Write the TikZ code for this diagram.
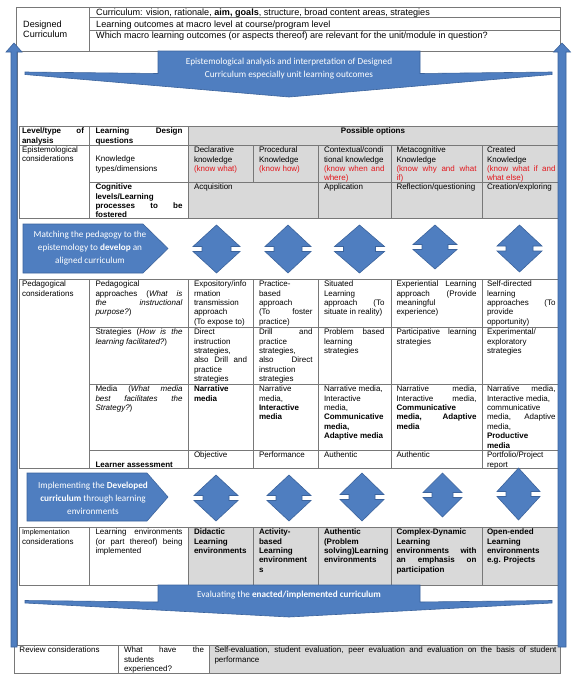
\documentclass[tikz,border=0pt]{standalone}
\usepackage{fontspec}
\setmainfont{Liberation Sans}
\newfontfamily\bnfont{Carlito}
\definecolor{kred}{HTML}{E3161C}
\definecolor{bfill}{HTML}{4F7EC0}
\definecolor{bdraw}{HTML}{3B639C}
\definecolor{lgray}{HTML}{D9D9D9}
\definecolor{tline}{HTML}{787878}
\newcommand\tf{\fontsize{8}{9.45}\selectfont}
\newcommand\topf{\fontsize{9.1}{9.5}\selectfont}
\newcommand\bnf{\bnfont\fontsize{9.2}{13}\selectfont}
\newcommand\udarrow[4]{%
  \path[blueshape] ({#1},{#2-#4}) -- ({#1+#3},{#2-2.5}) -- ({#1+#3-9},{#2-2.5}) -- ({#1+#3-9},{#2+2.5}) -- ({#1+#3},{#2+2.5}) -- ({#1},{#2+#4}) -- ({#1-#3},{#2+2.5}) -- ({#1-#3+9},{#2+2.5}) -- ({#1-#3+9},{#2-2.5}) -- ({#1-#3},{#2-2.5}) -- cycle;}
\hyphenpenalty=10000
\begin{document}
\begin{tikzpicture}[x=1pt,y=-1pt,
  tl/.style={draw=tline,line width=0.6pt},
  blueshape/.style={fill=bfill,draw=bdraw,line width=0.6pt,line join=miter},
  tcell/.style={anchor=north west,inner sep=0pt,outer sep=0pt,font=\tf,align=justify,execute at begin node={\tf\strut}},
  cA/.style={tcell,text width=62pt},
  cB/.style={tcell,text width=87pt},
  cC/.style={tcell,text width=53pt},
  cD/.style={tcell,text width=53.5pt},
  cE/.style={tcell,text width=60.5pt},
  cF/.style={tcell,text width=80pt},
  cG/.style={tcell,text width=68.5pt},
  toptext/.style={anchor=base west,inner sep=0pt,font=\topf},
  bantext/.style={inner sep=0pt,font=\bnf,text=white,align=center},
]
\useasboundingbox (0,0) rectangle (576,683);
\fill[white] (0,0) rectangle (576,683);
% grey cells
\fill[lgray] (188,126) rectangle (558,218);
\fill[lgray] (188,527) rectangle (558,585);
\fill[lgray] (209,645) rectangle (560,673);
% top table
\draw[tl] (16,7) rectangle (560,51);
\draw[tl] (89,7) -- (89,51);
\draw[tl] (89,17.5) -- (560,17.5);
\draw[tl] (89,29.8) -- (560,29.8);
% frame
\draw[tl] (17.5,51) -- (17.5,645);
\draw[tl] (558,51) -- (558,645);
% main table
\foreach \y in {126,145,218,279,468,527,585} \draw[tl] (19,\y) -- (558,\y);
\foreach \y in {182,327,384,450} \draw[tl] (89,\y) -- (558,\y);
\foreach \x in {19,89,188,558} \draw[tl] (\x,126) -- (\x,218);
\foreach \x in {318,391,482} \draw[tl] (\x,145) -- (\x,218);
\draw[tl] (253,145) -- (253,182);
\foreach \x in {19,89,188,253,318,391,482,558} {\draw[tl] (\x,279) -- (\x,468); \draw[tl] (\x,527) -- (\x,585);}
% review table
\draw[tl] (14,645) rectangle (560,673);
\draw[tl] (118,645) -- (118,673);
\draw[tl] (209,645) -- (209,673);
% banners
\path[blueshape] (158,51) -- (420,51) -- (420,73.5) -- (552,72) -- (552,74.5) -- (289,97) -- (25,74.5) -- (25,72) -- (158,73.5) -- cycle;
\path[blueshape] (158,585) -- (420,585) -- (420,602) -- (552,600.5) -- (552,603) -- (289,617) -- (25,603) -- (25,600.5) -- (158,602) -- cycle;
\path[blueshape] (23,224) -- (143,224) -- (168,248.5) -- (143,273) -- (23,273) -- cycle;
\path[blueshape] (27,473) -- (147,473) -- (168,497) -- (147,521) -- (27,521) -- cycle;
% up-down arrows
\udarrow{216.5}{249}{23.5}{24}
\udarrow{288}{249}{23}{24}
\udarrow{359.5}{249}{25}{24}
\udarrow{435}{247}{22}{22}
\udarrow{519.5}{248.5}{22.5}{23.5}
\udarrow{216}{498}{22}{23}
\udarrow{289}{498}{22}{23}
\udarrow{362}{497}{22}{24}
\udarrow{442.5}{495}{19.5}{22}
\udarrow{518.5}{494}{21.5}{26}
% side arrows
\path[blueshape] (11,647) -- (11,52) -- (6,52) -- (14,43) -- (22,52) -- (17,52) -- (17,647) -- cycle;
\path[blueshape] (558,647) -- (558,52) -- (553.5,52) -- (562,43) -- (570.5,52) -- (566,52) -- (566,647) -- cycle;
% banner texts
\node[bantext] (t1) at (289,68.3) {Epistemological analysis and interpretation of Designed\\Curriculum especially unit learning outcomes};
\node[bantext] (t2) at (90,248.3) {Matching the pedagogy to the\\epistemology to \textbf{develop} an\\aligned curriculum};
\node[bantext] (t3) at (93,498.3) {Implementing the \textbf{Developed}\\\textbf{curriculum} through learning\\environments};
\node[bantext] (t4) at (289,595) {Evaluating the \textbf{enacted/implemented curriculum}};
% top table text
\node[anchor=north west,inner sep=0pt,font=\topf,align=left,execute at begin node={\topf\strut}] (dc) at (23,21.2) {Designed\\Curriculum};
\node[toptext] (r1) at (96,15.4) {Curriculum: vision, rationale, \textbf{aim, goals}, structure, broad content areas, strategies};
\node[toptext] (r2) at (96,27.2) {Learning outcomes at macro level at course/program level};
\node[toptext] (r3) at (96,38.7) {Which macro learning outcomes (or aspects thereof) are relevant for the unit/module in question?};
% header
\node[cA] (h0) at (22,127) {\textbf{Level/type of\linebreak analysis}};
\node[cB] (h1) at (95.5,127) {\textbf{Learning Design\linebreak questions}};
\node[anchor=north,inner sep=0pt,font=\tf\bfseries,execute at begin node={\strut}] (h2) at (373,127) {Possible options};
% epistemological
\node[cA] (e0) at (22,145.5) {Epistemological\\considerations};
\node[cB] (e1) at (95.5,155) {Knowledge\\types/dimensions};
\node[cC] (k1) at (194,146) {Declarative\\knowledge\\\textcolor{kred}{(know what)}};
\node[cD] (k2) at (259,146) {Procedural\\Knowledge\\\textcolor{kred}{(know how)}};
\node[cE] (k3) at (324,146) {Contextual/condi\\tional knowledge\\\textcolor{kred}{(know when and\linebreak where)}};
\node[cF] (k4) at (396.5,146) {Metacognitive\\Knowledge\\\textcolor{kred}{(know why and what\linebreak if)}};
\node[cG] (k5) at (487,146) {Created\\Knowledge\\\textcolor{kred}{(know what if and\linebreak what else)}};
\node[cB] (g1) at (95.5,183) {\textbf{Cognitive\\levels/Learning\\processes to be\linebreak fostered}};
\node[tcell,text width=118pt] (g2) at (194,183) {Acquisition};
\node[cE] (g3) at (324,183) {Application};
\node[cF] (g4) at (396.5,183) {Reflection/questioning};
\node[cG] (g5) at (487,183) {Creation/exploring};
% pedagogical
\node[cA] (p0) at (22,280) {Pedagogical\\considerations};
\node[cB] (p1) at (95.5,280) {Pedagogical\\approaches (\textit{What is}\linebreak \textit{the instructional}\linebreak \textit{purpose?})};
\node[cC] (a1) at (194,280) {Expository/info\\rmation\\transmission\\approach\\(To expose to)};
\node[cD] (a2) at (259,280) {Practice-\\based\\approach\\(To foster\linebreak practice)};
\node[cE] (a3) at (324,280) {Situated\\Learning\\approach (To\linebreak situate in reality)};
\node[cF] (a4) at (396.5,280) {Experiential Learning\linebreak approach (Provide\linebreak meaningful\\experience)};
\node[cG] (a5) at (487,280) {Self-directed\\learning\\approaches (To\linebreak provide\\opportunity)};
\node[cB] (s1) at (95.5,328) {Strategies (\textit{How is the}\linebreak \textit{learning facilitated?})};
\node[cC] (s2) at (194,328) {Direct\\instruction\\strategies,\\also Drill and\linebreak practice\\strategies};
\node[cD] (s3) at (259,328) {Drill and\linebreak practice\\strategies,\\also Direct\linebreak instruction\\strategies};
\node[cE] (s4) at (324,328) {Problem based\linebreak learning\\strategies};
\node[cF] (s5) at (396.5,328) {Participative learning\linebreak strategies};
\node[cG] (s6) at (487,328) {Experimental/\\exploratory\\strategies};
\node[cB] (m1) at (95.5,385) {Media (\textit{What media}\linebreak \textit{best facilitates the}\linebreak \textit{Strategy?})};
\node[cC] (m2) at (194,385) {\textbf{Narrative\\media}};
\node[cD] (m3) at (259,385) {Narrative\\media,\\\textbf{Interactive\\media}};
\node[cE] (m4) at (324,385) {Narrative media,\\Interactive\\media,\\\textbf{Communicative\\media,\\Adaptive media}};
\node[cF] (m5) at (396.5,385) {Narrative media,\linebreak Interactive media,\linebreak \textbf{Communicative\\media, Adaptive\linebreak media}};
\node[cG] (m6) at (487,385) {Narrative media,\linebreak Interactive media,\\communicative\\media, Adaptive\linebreak media,\\\textbf{Productive\\media}};
\node[cB] (l1) at (95.5,460.5) {\textbf{Learner assessment}};
\node[cC] (l2) at (194,451) {Objective};
\node[cD] (l3) at (259,451) {Performance};
\node[cE] (l4) at (324,451) {Authentic};
\node[cF] (l5) at (396.5,451) {Authentic};
\node[cG] (l6) at (487,451) {Portfolio/Project\\report};
% implementation
\node[cA] (i0) at (22,528) {{\fontsize{7}{9.45}\selectfont Implementation}\\considerations};
\node[cB] (i1) at (95.5,528) {Learning environments\linebreak (or part thereof) being\linebreak implemented};
\node[cC] (i2) at (194,528) {\textbf{Didactic\\Learning\\environments}};
\node[cD] (i3) at (259,528) {\textbf{Activity-\\based\\Learning\\environment\\s}};
\node[cE] (i4) at (324,528) {\textbf{Authentic\\(Problem\\solving)Learning\\environments}};
\node[cF] (i5) at (396.5,528) {\textbf{Complex-Dynamic\\Learning\\environments with\linebreak an emphasis on\linebreak participation}};
\node[cG] (i6) at (487,528) {\textbf{Open-ended\\Learning\\environments\\e.g. Projects}};
% review
\node[tcell,text width=96pt] (v0) at (19.5,646) {Review considerations};
\node[tcell,text width=80pt] (v1) at (124,646) {What have the\linebreak students\\experienced?};
\node[tcell,text width=342pt] (v2) at (214.5,646) {Self-evaluation, student evaluation, peer evaluation and evaluation on the basis of student\linebreak performance};
\end{tikzpicture}
\end{document}
